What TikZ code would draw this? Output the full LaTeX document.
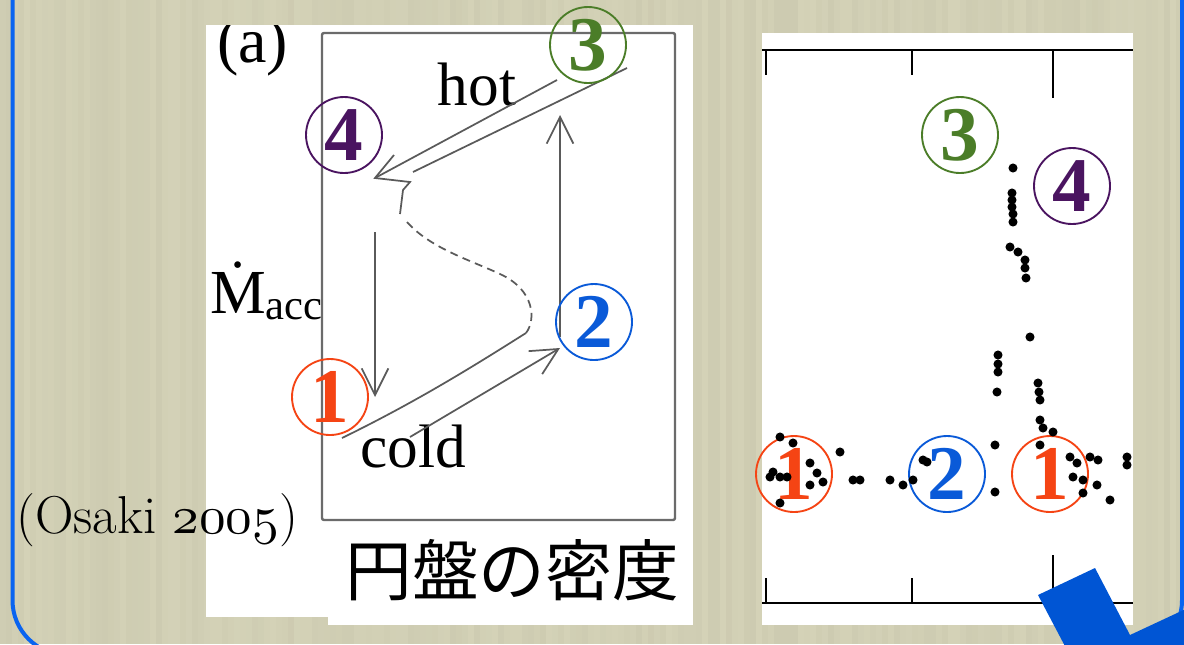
\documentclass[tikz,border=0pt]{standalone}
\usepackage{fontspec}
\usetikzlibrary{arrows.meta}

\newfontfamily\timesfont{Liberation Serif}
\newfontfamily\jpfont{Noto Sans CJK JP}
\font\oldnums=cmmi10 at 40pt

\definecolor{slidebg}{HTML}{D4D2B7}
\definecolor{frameblue}{HTML}{0A64F0}
\definecolor{markblue}{HTML}{0055D4}
\definecolor{cone}{HTML}{F54414}
\definecolor{ctwo}{HTML}{0A5AD8}
\definecolor{cthree}{HTML}{4B7D28}
\definecolor{cfour}{HTML}{4A1460}
\definecolor{linegray}{HTML}{5A5A5A}

\begin{document}
\begin{tikzpicture}[x=0.75pt,y=-0.75pt,
  cnum/.style={circle,draw=#1,text=#1,line width=1.4pt,minimum size=57pt,inner sep=0pt,
    font=\timesfont\bfseries\fontsize{58}{58}\selectfont},
  branchline/.style={draw=linegray,line width=1.3pt},
  flowarrow/.style={branchline,-{Straight Barb[length=20pt,width=20pt]}},
  serifbig/.style={inner sep=0pt,font=\timesfont\fontsize{46}{46}\selectfont},
  datapt/.style={fill=black}]

\useasboundingbox (0,0) rectangle (1184,644);
% striped slide background
\fill[slidebg] (0,0) rectangle (1184,644);
\pgfmathsetseed{11}
\foreach \sx in {0,6,...,1182}{
  \pgfmathsetmacro\shade{rnd*3.5}
  \fill[black!\shade!slidebg] (\sx,0) rectangle +(6,644);
}

% slide frame
\draw[frameblue,line width=3pt,rounded corners=41pt] (12.5,-10)--(12.5,655)--(1182,655)--(1182,-10);

% white panels
\fill[white] (206,25) rectangle (693,617);
\fill[white] (328,560) rectangle (693,625);
\fill[white] (762,33) rectangle (1133,625);

% left panel (a)
\begin{scope}
\clip (206,25) rectangle (693,617);
\node[serifbig,anchor=base west,font=\timesfont\fontsize{48}{48}\selectfont] (panela) at (217,62) {(a)};
\end{scope}
\draw[black!58,line width=1.8pt,rounded corners=1.5pt] (322,33) rectangle (675,520);

\node[anchor=base west,inner sep=0pt] (mdot) at (210,313)
  {\timesfont\fontsize{47}{47}\selectfont\.{M}\raisebox{-5pt}{\fontsize{32}{32}\selectfont acc}};
\node[serifbig,anchor=base] (hot) at (477,105) {hot};
\node[serifbig,anchor=base] (cold) at (413,467) {cold};

\coordinate (hotA) at (557,80);
\coordinate (hotTip) at (375,178);
\coordinate (barbUp) at (394,155);
\coordinate (hotB) at (627,68);
\coordinate (hotEnd) at (413,172);
\coordinate (barbLow) at (410,182);
\coordinate (kink) at (403,190);
\coordinate (sTop) at (400,214);
\coordinate (dashA) at (407,222);
\coordinate (dashM) at (500,274);
\coordinate (sBot) at (526,333);
\coordinate (coldEnd) at (342,438);
\coordinate (coldA) at (410,437);
\coordinate (coldTip) at (560,348);
\coordinate (downA) at (375,232);
\coordinate (downTip) at (375,397);
\coordinate (upA) at (560,337);
\coordinate (upTip) at (560,115);

% hot branch with its arrow
\draw[branchline] (hotA)--(hotTip);
\draw[branchline] (hotB)--(hotEnd);
\draw[branchline] (barbUp)--(hotTip)--(barbLow)--(kink)--(sTop);
% unstable part
\draw[branchline,dash pattern=on 6pt off 4pt] (dashA) .. controls (430,248) and (470,260) .. (dashM)
  .. controls (535,290) and (536,320) .. (sBot);
% cold branch with its arrow
\draw[branchline] (sBot) .. controls (480,362) and (420,400) .. (coldEnd);
\draw[flowarrow] (coldA)--(coldTip);
\draw[flowarrow] (downA)--(downTip);
\draw[flowarrow] (upA)--(upTip);

\node[cnum=cthree] (l3) at (588,45) {3};
\node[cnum=cfour] (l4) at (344,135) {4};
\node[cnum=ctwo] (l2) at (594,322) {2};
\node[cnum=cone] (l1) at (330,397) {1};

\node[anchor=base west,inner sep=0pt,font=\fontsize{40}{40}\selectfont] (cite) at (16,533) {(Osaki {\oldnums 2005})};
\node[anchor=base,inner sep=0pt,font=\jpfont\fontsize{50}{50}\selectfont] (density) at (512,595) {円盤の密度};

% right panel, light curve
\draw[line width=2pt] (762,50)--(1133,50);
\draw[line width=2pt] (762,603)--(1133,603);
\foreach \tx/\tl in {766/75,912/75,1053/98}
  \draw[line width=1.5pt] (\tx,50)--(\tx,\tl);
\foreach \tx/\tl in {766/578,912/578,1053/555}
  \draw[line width=1.5pt] (\tx,603)--(\tx,\tl);

\node[cnum=cthree] (r3) at (960,135) {3};
\node[cnum=cfour] (r4) at (1072,186) {4};
\node[cnum=cone] (r1a) at (794,474) {1};
\node[cnum=ctwo] (r2) at (947,474) {2};
\node[cnum=cone] (r1b) at (1050,474) {1};

\foreach \px/\py in {1013/168,1012/193,1012/200,1012/207,1013/214,1013/222,1010/247,1018/252,
    1025/260,1025/268,1026/278,1030/337,998/355,998/364,998/372,997/392,1038/383,1039/392,
    1040/400,1040/420,1043/428,1053/432,1040/445,995/445,995/492,
    780/437,793/443,773/472,770/477,780/477,787/477,780/503,810/463,817/473,823/482,810/485,
    840/452,853/480,860/480,890/480,903/485,913/480,923/460,927/462,
    1070/457,1077/463,1090/457,1098/460,1073/477,1083/480,1097/485,1083/493,1110/500,1127/457,1127/465}
  \fill[datapt] (\px,\py) circle[radius=3.4pt];

% corner mark over the panel
\fill[markblue] (1038,595)--(1095,568)--(1130,635)--(1190,607)--(1190,650)--(1067,650)--cycle;

\end{tikzpicture}
\end{document}
